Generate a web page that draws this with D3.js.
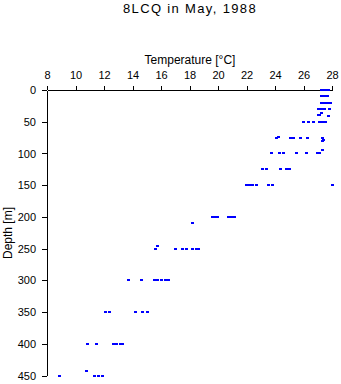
<!DOCTYPE html>
<html>
<head>
<meta charset="utf-8">
<script src="https://cdn.jsdelivr.net/npm/d3@7"></script>
<style>
  html, body { margin: 0; padding: 0; background: #fff; }
  svg { display: block; }
  text { font-family: "Liberation Sans", Arial, sans-serif; fill: #000; }
</style>
</head>
<body>
<svg id="chart" width="341" height="384"></svg>
<script>
const title = "8LCQ in May, 1988";
const xLabel = "Temperature [°C]";
const yLabel = "Depth [m]";
const xTicks = [8, 10, 12, 14, 16, 18, 20, 22, 24, 26, 28];
const yTicks = [0, 50, 100, 150, 200, 250, 300, 350, 400, 450];

// Observations: depth [m] and temperature [°C]
const depth = [
  0, 0, 0, 0,
  10, 10, 10, 10,
  20, 20, 20, 20, 20,
  30, 30, 30, 30, 30,
  36, 40, 40, 41,
  50, 50, 50, 50, 50, 50,
  74, 76, 75, 75, 75, 75, 75, 78, 80,
  95,
  100, 100, 100, 100, 100, 100, 100,
  125, 125, 125, 125, 125,
  150, 150, 150, 150, 150, 150, 150,
  200, 200, 200, 200, 200, 200,
  210,
  245,
  250, 250, 250, 250, 250, 250, 250,
  300, 300, 300, 300, 300, 300, 300,
  350, 350, 350, 350, 350,
  400, 400, 400, 400, 400, 400,
  442,
  450, 450, 450, 450
];
const temperature = [
  27.2, 27.37, 27.54, 27.7,
  27.2, 27.37, 27.54, 27.68,
  27.2, 27.35, 27.5, 27.62, 27.85,
  27.0, 27.15, 27.3, 27.42, 27.8,
  27.25, 27.0, 27.12, 27.7,
  25.97, 26.33, 26.7, 27.1, 27.3, 27.5,
  24.2, 24.1, 25.05, 25.25, 25.75, 26.28, 27.3, 27.35, 27.3,
  27.3,
  23.7, 24.25, 24.55, 25.45, 26.15, 26.95, 27.1,
  23.1, 23.35, 24.35, 24.75, 25.0,
  21.95, 22.2, 22.4, 22.65, 23.5, 23.8, 28.0,
  19.6, 19.8, 19.95, 20.7, 20.9, 21.15,
  18.2,
  15.72,
  15.6, 17.0, 17.5, 17.75, 18.2, 18.45, 18.6,
  13.7, 14.6, 15.5, 15.75, 16.0, 16.25, 16.5,
  12.1, 12.35, 14.15, 14.65, 15.0,
  10.8, 11.45, 12.6, 12.85, 13.1, 13.25,
  10.75,
  8.85, 11.3, 11.6, 11.85
];

const svg = d3.select("#chart");
const x = d3.scaleLinear().domain([8, 28]).range([47, 332]);
const y = d3.scaleLinear().domain([0, 450]).range([90, 375.7]);

// Title
svg.append("text")
  .attr("x", 190).attr("y", 13)
  .attr("text-anchor", "middle")
  .style("font-size", "13px")
  .style("letter-spacing", "1.35px")
  .text(title);

// X axis (top)
const xAxis = svg.append("g")
  .attr("transform", "translate(0,90)")
  .call(d3.axisTop(x).tickValues(xTicks).tickFormat(d3.format("d")).tickSize(4).tickSizeOuter(0).tickPadding(7));
xAxis.selectAll("text").style("font-size", "11px");
xAxis.attr("font-family", null).attr("font-size", null);

// Y axis (left)
const yAxis = svg.append("g")
  .attr("transform", "translate(47,0)")
  .call(d3.axisLeft(y).tickValues(yTicks).tickFormat(d3.format("d")).tickSize(5).tickSizeOuter(0).tickPadding(6));
yAxis.selectAll("text").style("font-size", "11px");
yAxis.attr("font-family", null).attr("font-size", null);

svg.selectAll(".domain, .tick line").attr("stroke", "#000").attr("shape-rendering", "crispEdges");

// Axis labels
svg.append("text")
  .attr("x", 190).attr("y", 64)
  .attr("text-anchor", "middle")
  .style("font-size", "12px")
  .text(xLabel);

svg.append("text")
  .attr("transform", "translate(11.5,233) rotate(-90)")
  .attr("text-anchor", "middle")
  .style("font-size", "12px")
  .text(yLabel);

// Points
const pts = depth.map((d, i) => ({ d, t: temperature[i] }));
svg.append("g").selectAll("rect")
  .data(pts)
  .join("rect")
  .attr("x", p => Math.round(x(p.t)) - 1)
  .attr("y", p => Math.round(y(p.d)) - 1)
  .attr("width", 3)
  .attr("height", 2)
  .attr("fill", "#0000ff")
  .attr("shape-rendering", "crispEdges");
</script>
</body>
</html>
